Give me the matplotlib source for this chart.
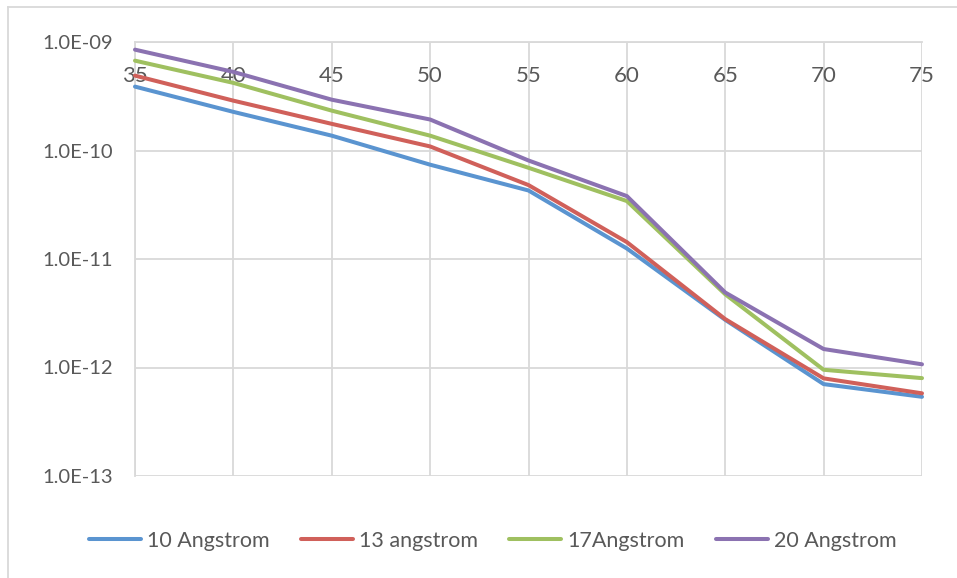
import matplotlib
matplotlib.use("Agg")
import matplotlib.pyplot as plt
from matplotlib.ticker import FuncFormatter, FixedLocator, NullLocator
from matplotlib.lines import Line2D

# Temperature-like x values and rates for four layer thicknesses
x_vals = [35, 40, 45, 50, 55, 60, 65, 70, 75]
series_names = ["10 Angstrom", "13 angstrom", "17Angstrom", "20 Angstrom"]
s10 = [3.88e-10, 2.27e-10, 1.37e-10, 7.4e-11, 4.28e-11, 1.25e-11, 2.75e-12, 7.03e-13, 5.37e-13]
s13 = [4.9e-10, 2.88e-10, 1.76e-10, 1.09e-10, 4.8e-11, 1.43e-11, 2.79e-12, 7.94e-13, 5.78e-13]
s17 = [6.73e-10, 4.2e-10, 2.33e-10, 1.37e-10, 6.93e-11, 3.42e-11, 4.73e-12, 9.53e-13, 7.98e-13]
s20 = [8.5e-10, 5.3e-10, 2.94e-10, 1.93e-10, 8.09e-11, 3.8e-11, 4.91e-12, 1.48e-12, 1.07e-12]
y_ticks = [1e-13, 1e-12, 1e-11, 1e-10, 1e-9]

colors = ["#5a94d0", "#d0605a", "#9fc060", "#8b72b1"]
text_color = "#595959"
grid_color = "#d9d9d9"

plt.rcParams["font.family"] = ["Lato", "DejaVu Sans"]

fig = plt.figure(figsize=(9.57, 5.78), dpi=100)
ax = fig.add_axes([135 / 957, 1 - 476 / 578, (922 - 135) / 957, (476 - 42) / 578])

for ys, name, c in zip([s10, s13, s17, s20], series_names, colors):
    ax.plot(x_vals, ys, color=c, lw=2.9, label=name, solid_capstyle="round",
            solid_joinstyle="round", zorder=3, clip_on=False)

ax.set_yscale("log")
ax.set_ylim(1e-13, 1e-9)
ax.set_xlim(35, 75)
ax.yaxis.set_major_locator(FixedLocator(y_ticks))
ax.yaxis.set_minor_locator(NullLocator())
ax.yaxis.set_major_formatter(FuncFormatter(lambda v, p: f"{v:.1E}"))
ax.xaxis.set_major_locator(FixedLocator(x_vals))

ax.grid(True, color=grid_color, lw=1.3, zorder=0)
ax.set_axisbelow(True)

# x axis crosses at the top of the value range
ax.spines["bottom"].set_position(("axes", 1.0))
ax.spines["top"].set_visible(False)
ax.spines["right"].set_visible(False)
for s in ("bottom", "left"):
    ax.spines[s].set_color(grid_color)
    ax.spines[s].set_linewidth(1.3)

ax.tick_params(axis="x", length=0, pad=17, labelsize=16, labelcolor=text_color)
ax.tick_params(axis="y", length=0, pad=16, labelsize=14.5, labelcolor=text_color)

# outer chart frame
fig.add_artist(Line2D([8 / 957, 1.0], [1 - 7 / 578, 1 - 7 / 578], color=grid_color, lw=1.3,
                      transform=fig.transFigure))
fig.add_artist(Line2D([8 / 957, 8 / 957], [0.0, 1 - 7 / 578], color=grid_color, lw=1.3,
                      transform=fig.transFigure))

leg = fig.legend(loc="center", bbox_to_anchor=(493 / 957, 1 - 541 / 578), ncol=4,
                 frameon=False, fontsize=15.5, handlelength=2.4, handletextpad=0.3,
                 columnspacing=1.45, labelcolor=text_color)

fig.savefig("out.png", dpi=100)
